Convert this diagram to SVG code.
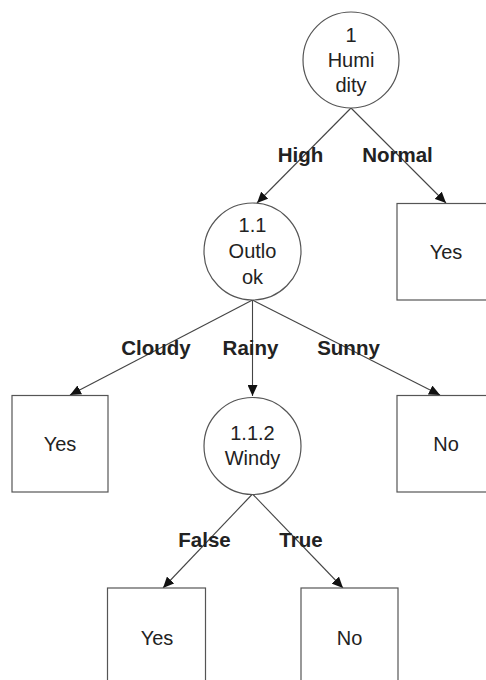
<svg xmlns="http://www.w3.org/2000/svg" width="486" height="680" viewBox="0 0 486 680">
  <style>
    .node { fill: #ffffff; stroke: #555555; stroke-width: 1.2; }
    .t { font-family: "Liberation Sans", Arial, sans-serif; font-size: 20px; fill: #222222; text-anchor: middle; }
    .lbl { font-family: "Liberation Sans", Arial, sans-serif; font-size: 20.5px; font-weight: bold; fill: #222222; text-anchor: middle; }
    .edge { stroke: #444444; stroke-width: 1.1; fill: none; marker-end: url(#arr); }
  </style>
  <defs>
    <marker id="arr" markerUnits="userSpaceOnUse" markerWidth="12" markerHeight="10" refX="11" refY="5" orient="auto">
      <path d="M0,0 L11,5 L0,10 Z" fill="#111111"/>
    </marker>
  </defs>
  <rect width="486" height="680" fill="#ffffff"/>

  <g id="connectors">
    <line class="edge" x1="351" y1="108" x2="257" y2="203"/>
    <line class="edge" x1="351" y1="108" x2="446" y2="203"/>
    <line class="edge" x1="252.5" y1="300" x2="70" y2="395"/>
    <line class="edge" x1="252.5" y1="300" x2="252.5" y2="396"/>
    <line class="edge" x1="252.5" y1="300" x2="440" y2="395"/>
    <line class="edge" x1="252.5" y1="494" x2="163" y2="588"/>
    <line class="edge" x1="252.5" y1="494" x2="343" y2="588"/>
    <text class="lbl" x="300.5" y="162">High</text>
    <text class="lbl" x="397.5" y="162">Normal</text>
    <text class="lbl" x="156" y="355">Cloudy</text>
    <text class="lbl" x="250.5" y="355">Rainy</text>
    <text class="lbl" x="348.5" y="355">Sunny</text>
    <text class="lbl" x="204.5" y="547">False</text>
    <text class="lbl" x="301" y="547">True</text>
  </g>

  <g id="n1">
    <circle class="node" cx="351" cy="60" r="48"/>
    <text class="t" x="351" y="42">1</text>
    <text class="t" x="351" y="67">Humi</text>
    <text class="t" x="351" y="92">dity</text>
  </g>
  <g id="n1-normal-yes">
    <rect class="node" x="397" y="203.5" width="97" height="96.5"/>
    <text class="t" x="446" y="259">Yes</text>
  </g>
  <g id="n1_1">
    <circle class="node" cx="252.5" cy="251.5" r="48.5"/>
    <text class="t" x="252.5" y="232">1.1</text>
    <text class="t" x="252.5" y="258">Outlo</text>
    <text class="t" x="252.5" y="284">ok</text>
  </g>
  <g id="n-cloudy-yes">
    <rect class="node" x="12" y="395.5" width="96" height="96.5"/>
    <text class="t" x="60" y="451">Yes</text>
  </g>
  <g id="n-sunny-no">
    <rect class="node" x="397" y="395.5" width="97" height="96.5"/>
    <text class="t" x="446" y="451">No</text>
  </g>
  <g id="n1_1_2">
    <circle class="node" cx="252.5" cy="446" r="48.5"/>
    <text class="t" x="252.5" y="440">1.1.2</text>
    <text class="t" x="252.5" y="465">Windy</text>
  </g>
  <g id="n-false-yes">
    <rect class="node" x="107.5" y="588" width="98" height="96"/>
    <text class="t" x="157" y="645">Yes</text>
  </g>
  <g id="n-true-no">
    <rect class="node" x="301" y="588" width="97" height="96"/>
    <text class="t" x="349.5" y="645">No</text>
  </g>
</svg>
